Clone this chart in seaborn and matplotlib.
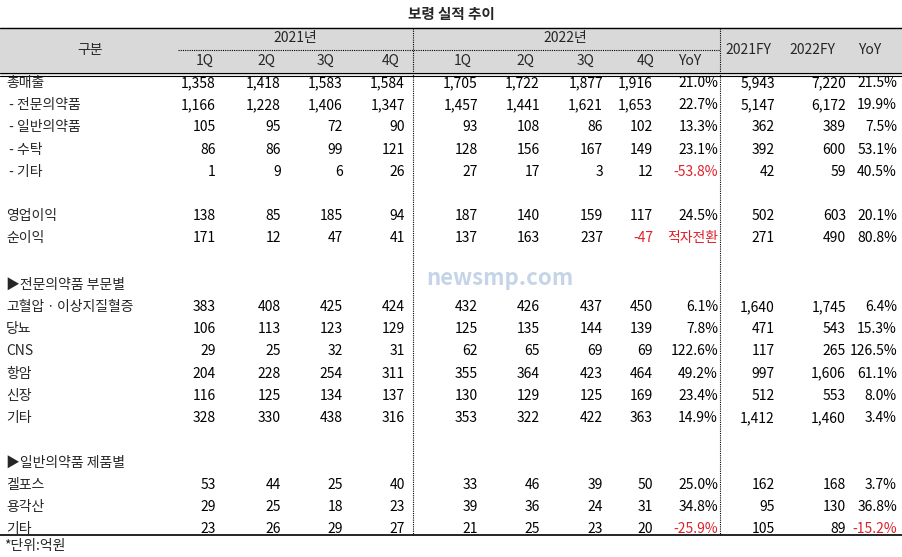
import matplotlib
matplotlib.use("Agg")
import matplotlib.pyplot as plt
import seaborn as sns

sns.set_theme(style="white")
plt.rcParams['font.family'] = ['Noto Sans CJK KR', 'DejaVu Sans']

title = "보령 실적 추이"
years = ["2021년", "2022년"]
quarters = ["1Q", "2Q", "3Q", "4Q", "1Q", "2Q", "3Q", "4Q", "YoY", "2021FY", "2022FY", "YoY"]

labels = ["총매출", " - 전문의약품", " - 일반의약품", " - 수탁", " - 기타", "",
          "영업이익", "순이익", "",
          "▶전문의약품 부문별", "고혈압ㆍ이상지질혈증", "당뇨", "CNS", "항암", "신장", "기타", "",
          "▶일반의약품 제품별", "겔포스", "용각산", "기타"]
values = [
    ["1,358", "1,418", "1,583", "1,584", "1,705", "1,722", "1,877", "1,916", "21.0%", "5,943", "7,220", "21.5%"],
    ["1,166", "1,228", "1,406", "1,347", "1,457", "1,441", "1,621", "1,653", "22.7%", "5,147", "6,172", "19.9%"],
    ["105", "95", "72", "90", "93", "108", "86", "102", "13.3%", "362", "389", "7.5%"],
    ["86", "86", "99", "121", "128", "156", "167", "149", "23.1%", "392", "600", "53.1%"],
    ["1", "9", "6", "26", "27", "17", "3", "12", "-53.8%", "42", "59", "40.5%"],
    None,
    ["138", "85", "185", "94", "187", "140", "159", "117", "24.5%", "502", "603", "20.1%"],
    ["171", "12", "47", "41", "137", "163", "237", "-47", "적자전환", "271", "490", "80.8%"],
    None, None,
    ["383", "408", "425", "424", "432", "426", "437", "450", "6.1%", "1,640", "1,745", "6.4%"],
    ["106", "113", "123", "129", "125", "135", "144", "139", "7.8%", "471", "543", "15.3%"],
    ["29", "25", "32", "31", "62", "65", "69", "69", "122.6%", "117", "265", "126.5%"],
    ["204", "228", "254", "311", "355", "364", "423", "464", "49.2%", "997", "1,606", "61.1%"],
    ["116", "125", "134", "137", "130", "129", "125", "169", "23.4%", "512", "553", "8.0%"],
    ["328", "330", "438", "316", "353", "322", "422", "363", "14.9%", "1,412", "1,460", "3.4%"],
    None, None,
    ["53", "44", "25", "40", "33", "46", "39", "50", "25.0%", "162", "168", "3.7%"],
    ["29", "25", "18", "23", "39", "36", "24", "31", "34.8%", "95", "130", "36.8%"],
    ["23", "26", "29", "27", "21", "25", "23", "20", "-25.9%", "105", "89", "-15.2%"],
]
unit = "*단위:억원"

W, H = 903, 557
fig = plt.figure(figsize=(W / 100, H / 100), dpi=100)
ax = fig.add_axes([0, 0, 1, 1])
ax.set_xlim(0, W)
ax.set_ylim(H, 0)
ax.axis("off")

fs = 10
right_x = [216, 281, 343, 405, 478, 540, 603, 653, 718, 775, 846, 897]
head_x = [205, 266, 326, 391, 463, 525, 586, 646, 690, 748, 812, 870]

ax.text(W / 2, 14, title, ha="center", va="center", fontsize=10.5, fontweight="bold")
ax.add_patch(plt.Rectangle((0, 28), W, 46, color="#d9d9d9", zorder=0))
ax.plot([0, W], [28, 28], color="black", lw=1)
ax.plot([0, W], [73, 73], color="black", lw=0.8)
ax.plot([0, W], [76, 76], color="black", lw=0.8)
ax.plot([0, W], [535, 535], color="black", lw=1.2)
ax.plot([178, 720], [50, 50], color="black", lw=0.8, ls=(0, (1, 1)))
for xv in (413, 720):
    ax.plot([xv, xv], [28, 535], color="black", lw=0.8, ls=(0, (1, 1)))

ax.text(90, 50, "구분", ha="center", va="center", fontsize=fs)
ax.text(295, 38, years[0], ha="center", va="center", fontsize=fs)
ax.text(565, 38, years[1], ha="center", va="center", fontsize=fs)
for i, q in enumerate(quarters):
    y = 61 if i < 9 else 50
    ax.text(head_x[i], y, q, ha="center", va="center", fontsize=fs)

y0, dy = 83, 22.2
for r, lab in enumerate(labels):
    y = y0 + r * dy
    if r >= 9:
        y += 2
    ax.text(6, y, lab, ha="left", va="center", fontsize=fs)
    row = values[r]
    if row is None:
        continue
    for c, v in enumerate(row):
        red = v.startswith("-") and c in (7, 8, 11) or v == "적자전환"
        ax.text(right_x[c], y, v, ha="right", va="center", fontsize=fs,
                color="#e0202a" if red else "black")

ax.text(500, 278, "newsmp.com", ha="center", va="center", fontsize=16,
        fontweight="bold", color="#9fb8d6", alpha=0.6)
ax.text(4, 546, unit, ha="left", va="center", fontsize=fs)

fig.savefig("out.png", dpi=100)
